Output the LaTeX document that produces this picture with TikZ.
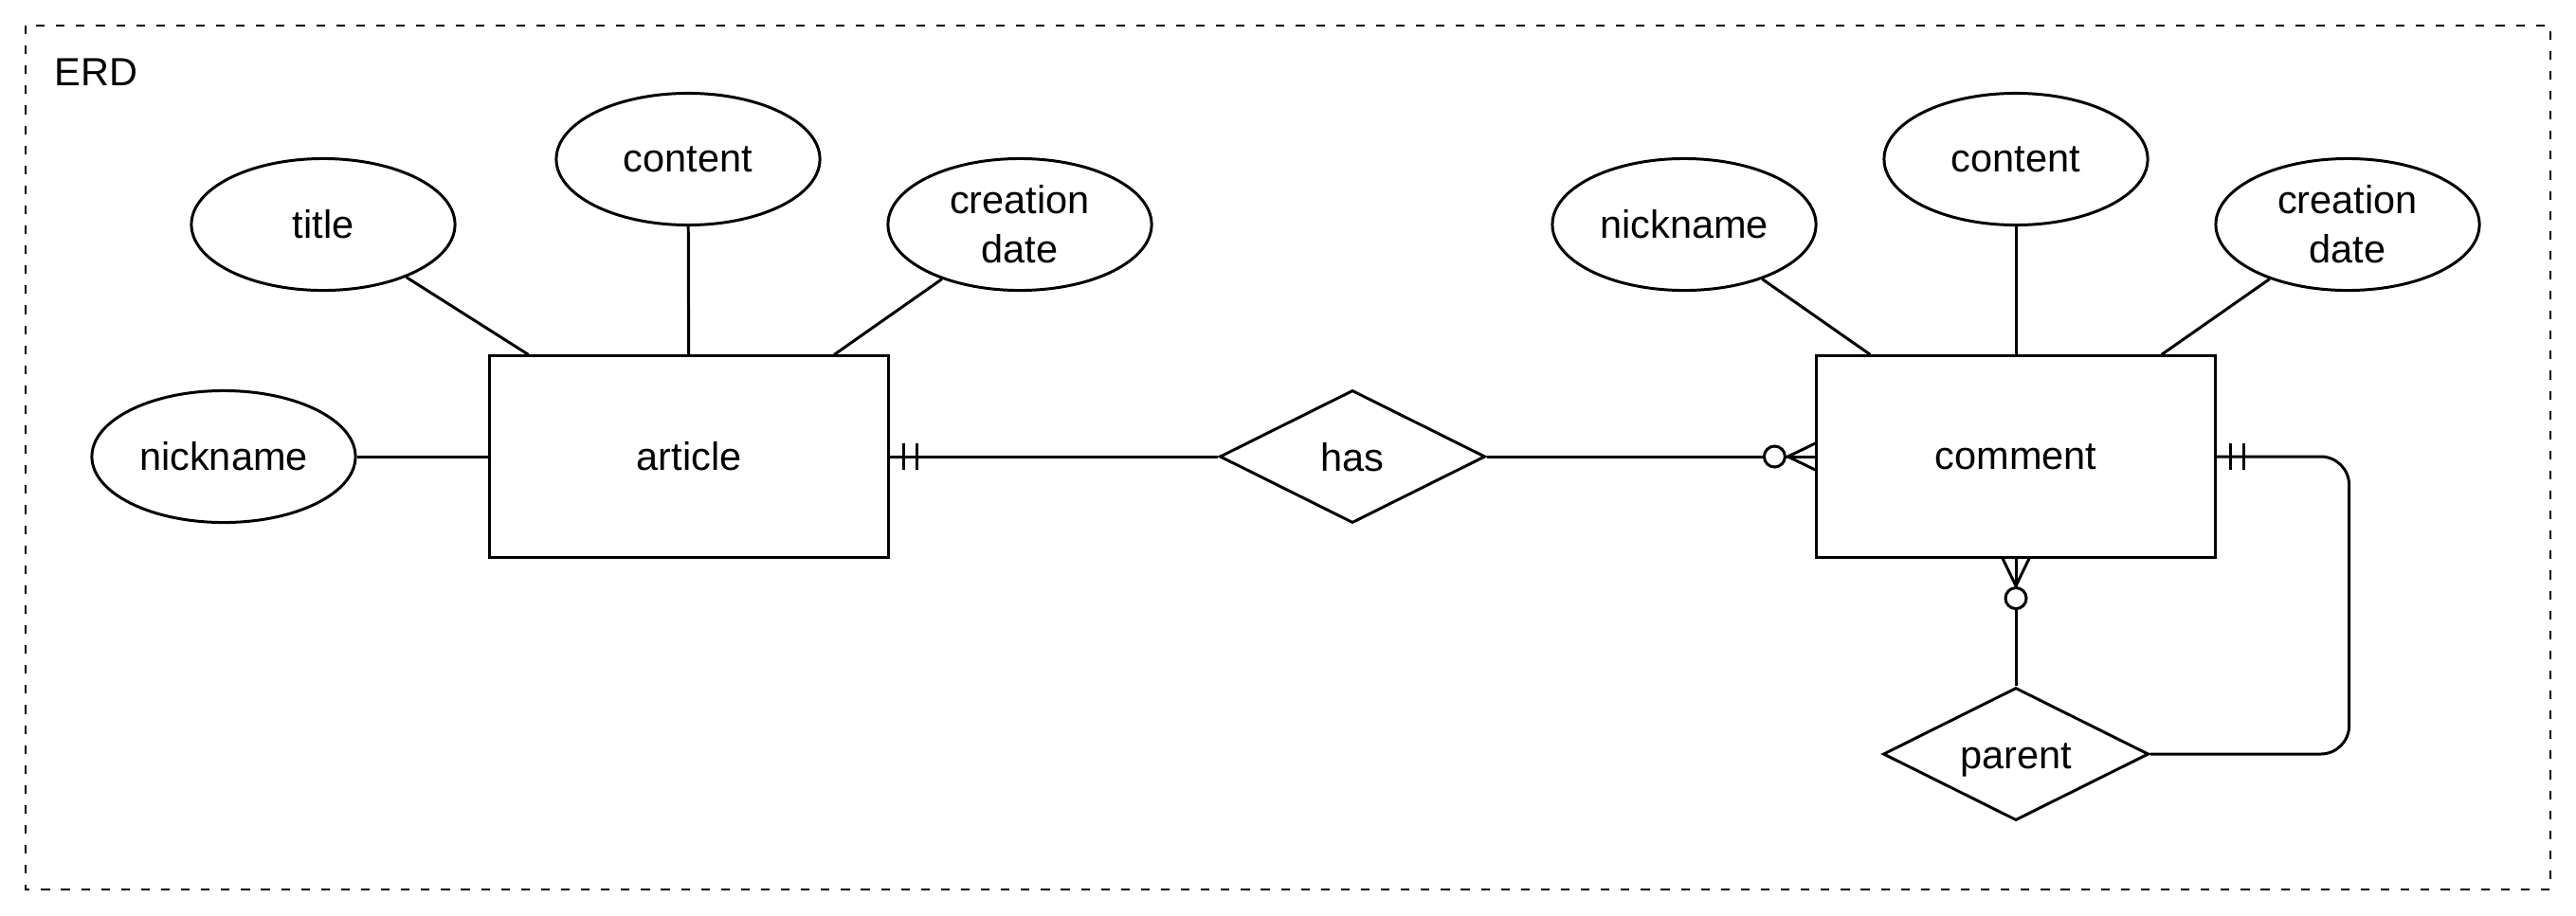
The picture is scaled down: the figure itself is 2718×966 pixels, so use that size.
\documentclass[tikz,border=0pt]{standalone}
\usepackage{fontspec}
\setmainfont{Liberation Sans}
\usetikzlibrary{shapes.geometric,calc}
\begin{document}
\begin{tikzpicture}[x=0.01cm,y=-0.01cm,
  ln/.style={line width=0.85pt,draw=black},
  attr/.style={ellipse,ln,minimum width=2.78cm,minimum height=1.39cm,inner sep=0pt,align=center,font=\fontsize{11.8}{14.8}\selectfont},
  ent/.style={rectangle,ln,minimum width=4.2cm,minimum height=2.12cm,inner sep=0pt,font=\fontsize{11.8}{14.8}\selectfont},
  rel/.style={diamond,aspect=2,ln,minimum width=2.8cm,minimum height=1.4cm,inner sep=0pt,text height=8.6pt,text depth=0pt,font=\fontsize{11.8}{14.8}\selectfont},
  frame/.style={line width=0.75pt,dash pattern=on 2.6pt off 3.4pt}]
\useasboundingbox (0,0) rectangle (2718,966);
\draw[frame] (27,27) rectangle (2691,939);
\node[anchor=base west,font=\fontsize{11.8}{14.8}\selectfont,inner sep=0pt] (erd) at (57,90) {ERD};

\node[ent] (article) at (727,482) {article};
\node[ent] (cmt) at (2127,482) {comment};
\node[rel] (has) at (1427,482) {has};
\node[rel] (parent) at (2127,796) {parent};

\node[attr] (title) at (341,237) {title};
\node[attr] (acontent) at (726,168) {content};
\node[attr] (adate) at (1076,237) {creation\\date};
\node[attr] (anick) at (236,482) {nickname};
\node[attr] (cnick) at (1777,237) {nickname};
\node[attr] (ccontent) at (2127,168) {content};
\node[attr] (cdate) at (2477,237) {creation\\date};

\draw[ln] (title) -- (article);
\draw[ln] (acontent) -- (article);
\draw[ln] (adate) -- (article);
\draw[ln] (anick) -- (article);
\draw[ln] (cnick) -- (cmt);
\draw[ln] (ccontent) -- (cmt);
\draw[ln] (cdate) -- (cmt);

% article -- has (mandatory one at article)
\draw[ln] (article.east) -- (has.west);
\draw[ln] ($(article.east)+(15,-14)$) -- ++(0,28);
\draw[ln] ($(article.east)+(29,-14)$) -- ++(0,28);

% has -- comment (zero or many at comment)
\draw[ln] (has.east) -- (cmt.west);
\draw[ln] ($(cmt.west)+(0,-14)$) -- ($(cmt.west)+(-29,0)$) -- ($(cmt.west)+(0,14)$);
\draw[ln,fill=white] ($(cmt.west)+(-43,0)$) circle[radius=0.11cm];

% comment -- parent (zero or many at comment bottom)
\draw[ln] (cmt.south) -- (parent.north);
\draw[ln] ($(cmt.south)+(-14,0)$) -- ($(cmt.south)+(0,29)$) -- ($(cmt.south)+(14,0)$);
\draw[ln,fill=white] ($(cmt.south)+(0,42)$) circle[radius=0.11cm];

% comment right -- parent right (mandatory one at comment)
\draw[ln,rounded corners=0.3cm] (cmt.east) -- ++(140,0) |- (parent.east);
\draw[ln] ($(cmt.east)+(15,-14)$) -- ++(0,28);
\draw[ln] ($(cmt.east)+(29,-14)$) -- ++(0,28);
\end{tikzpicture}
\end{document}
